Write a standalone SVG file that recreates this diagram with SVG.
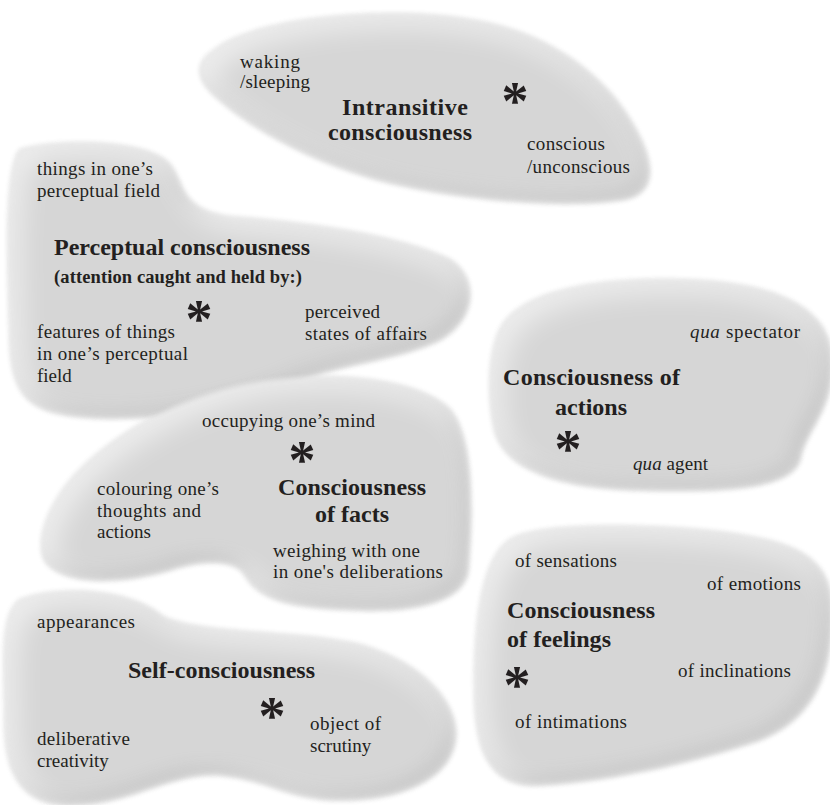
<svg xmlns="http://www.w3.org/2000/svg" width="830" height="805" viewBox="0 0 830 805">
<defs>
<filter id="soft" x="-10%" y="-10%" width="120%" height="120%" color-interpolation-filters="sRGB">
<feGaussianBlur in="SourceAlpha" stdDeviation="2.5" result="edge"/>
<feFlood flood-color="#d6d6d6" result="c0"/>
<feComposite in="c0" in2="edge" operator="in" result="base"/>
<feMorphology in="SourceAlpha" operator="erode" radius="4" result="er1"/>
<feGaussianBlur in="er1" stdDeviation="14" result="b1"/>
<feOffset in="b1" dx="8" dy="8" result="sh1"/>
<feComposite in="edge" in2="sh1" operator="out" result="band1"/>
<feFlood flood-color="#ffffff" flood-opacity="0.6" result="c1"/>
<feComposite in="c1" in2="band1" operator="in" result="light"/>
<feMorphology in="SourceAlpha" operator="erode" radius="3" result="er2"/>
<feGaussianBlur in="er2" stdDeviation="7" result="b2"/>
<feOffset in="b2" dx="-6" dy="-6" result="sh2"/>
<feComposite in="edge" in2="sh2" operator="out" result="band2"/>
<feFlood flood-color="#9a9a9a" flood-opacity="0.3" result="c2"/>
<feComposite in="c2" in2="band2" operator="in" result="dark"/>
<feMerge><feMergeNode in="base"/><feMergeNode in="dark"/><feMergeNode in="light"/></feMerge>
</filter>
</defs>
<style>
.blob{fill:#000;filter:url(#soft)}
text{font-family:"Liberation Serif","Times New Roman",serif;fill:#231f20}
.t{font-size:19px}
.h{font-size:24px;font-weight:bold}
.s{font-size:18.5px;font-weight:bold}
.ast{font-size:54px;font-weight:bold;text-anchor:middle}
</style>
<rect width="830" height="805" fill="#ffffff"/>

<g id="intransitive">
<path class="blob" d="M215,50 C250,20 380,5 470,20 C540,30 600,70 630,120 C655,160 660,195 620,200 C560,208 470,200 400,185 C330,170 260,135 220,100 C195,80 195,62 215,50 Z"/>
<text class="t" x="240" y="68" textLength="60">waking</text>
<text class="t" x="240" y="88" textLength="70">/sleeping</text>
<text class="h" x="342" y="115" textLength="126">Intransitive</text>
<text class="h" x="328" y="140" textLength="144">consciousness</text>
<text class="ast" x="515" y="119">*</text>
<text class="t" x="527" y="150" textLength="78">conscious</text>
<text class="t" x="527" y="173" textLength="103">/unconscious</text>
</g>

<g id="perceptual">
<path class="blob" d="M20,150 C60,138 150,140 170,165 C185,185 180,210 230,217 C300,222 400,235 450,260 C480,280 475,320 440,340 C400,360 330,365 290,385 C240,405 180,420 100,418 C30,415 10,400 10,330 C8,260 5,170 20,150 Z"/>
<text class="t" x="37" y="175" textLength="116">things in one’s</text>
<text class="t" x="37" y="197" textLength="123">perceptual field</text>
<text class="h" x="54" y="255" textLength="256">Perceptual consciousness</text>
<text class="s" x="54" y="283" textLength="248">(attention caught and held by:)</text>
<text class="ast" x="199" y="337">*</text>
<text class="t" x="305" y="318" textLength="75">perceived</text>
<text class="t" x="305" y="340" textLength="122">states of affairs</text>
<text class="t" x="37" y="338" textLength="138">features of things</text>
<text class="t" x="37" y="360" textLength="151">in one’s perceptual</text>
<text class="t" x="37" y="382">field</text>
</g>

<g id="actions">
<path class="blob" d="M500,330 C520,290 600,278 680,280 C760,282 830,300 832,360 C834,410 805,430 800,460 C790,490 720,492 640,490 C560,488 505,470 495,430 C488,400 488,355 500,330 Z"/>
<text class="t" x="690" y="338" textLength="110"><tspan font-style="italic">qua</tspan> spectator</text>
<text class="h" x="503" y="385" textLength="177">Consciousness of</text>
<text class="h" x="555" y="415" textLength="72">actions</text>
<text class="ast" x="568" y="467">*</text>
<text class="t" x="633" y="470" textLength="75"><tspan font-style="italic">qua</tspan> agent</text>
</g>

<g id="facts">
<path class="blob" d="M270,380 C340,372 420,380 450,410 C475,440 472,520 468,570 C465,600 420,612 360,610 C290,608 260,600 245,575 C235,558 200,560 170,570 C120,585 60,585 45,560 C35,540 50,500 80,470 C120,430 190,390 270,380 Z"/>
<text class="t" x="202" y="427" textLength="173">occupying one’s mind</text>
<text class="ast" x="302" y="478">*</text>
<text class="h" x="278" y="495" textLength="148">Consciousness</text>
<text class="h" x="315" y="522" textLength="74">of facts</text>
<text class="t" x="97" y="495" textLength="122">colouring one’s</text>
<text class="t" x="97" y="517" textLength="104">thoughts and</text>
<text class="t" x="97" y="538">actions</text>
<text class="t" x="273" y="557" textLength="147">weighing with one</text>
<text class="t" x="273" y="578" textLength="170">in one's deliberations</text>
</g>

<g id="feelings">
<path class="blob" d="M510,540 C540,520 680,525 740,535 C800,545 835,560 832,620 C830,680 810,720 760,740 C700,760 620,780 540,785 C490,788 475,750 475,690 C475,630 480,560 510,540 Z"/>
<text class="t" x="515" y="567" textLength="102">of sensations</text>
<text class="t" x="707" y="590" textLength="94">of emotions</text>
<text class="h" x="507" y="618" textLength="148">Consciousness</text>
<text class="h" x="507" y="647" textLength="104">of feelings</text>
<text class="ast" x="517" y="703">*</text>
<text class="t" x="678" y="677" textLength="113">of inclinations</text>
<text class="t" x="515" y="728" textLength="112">of intimations</text>
</g>

<g id="self">
<path class="blob" d="M20,600 C60,585 130,590 160,615 C190,635 300,630 360,645 C430,665 460,710 455,740 C450,780 400,800 340,800 C290,800 270,780 220,775 C170,772 130,805 70,805 C20,805 5,770 5,720 C5,660 0,615 20,600 Z"/>
<text class="t" x="37" y="628" textLength="98">appearances</text>
<text class="h" x="128" y="678" textLength="187">Self-consciousness</text>
<text class="ast" x="272" y="734">*</text>
<text class="t" x="310" y="730" textLength="71">object of</text>
<text class="t" x="310" y="752">scrutiny</text>
<text class="t" x="37" y="745" textLength="93">deliberative</text>
<text class="t" x="37" y="767">creativity</text>
</g>
</svg>
